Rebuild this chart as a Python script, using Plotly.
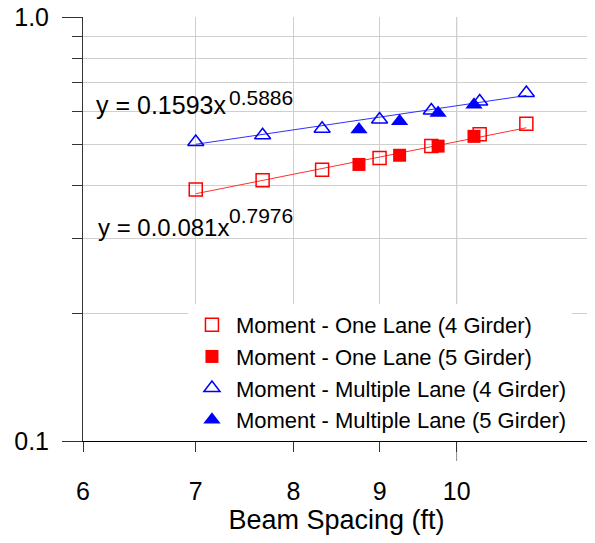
import math
import plotly.graph_objects as go

# beam spacing (ft) and LDF values
beam_4g = [7.0, 7.67, 8.32, 9.0, 9.66, 10.32, 11.0]
one_lane_4g = [0.392, 0.412, 0.436, 0.465, 0.496, 0.529, 0.560]
multi_lane_4g = [0.507, 0.526, 0.545, 0.573, 0.602, 0.632, 0.662]

beam_5g = [8.75, 9.25, 9.75, 10.24]
one_lane_5g = [0.449, 0.472, 0.496, 0.523]
multi_lane_5g = [0.543, 0.568, 0.594, 0.621]

# power-law trend lines (straight on log-log), end points
fit_x = [7.0, 11.0]
one_lane_fit = [0.383, 0.548]
multi_lane_fit = [0.501, 0.653]

x_ticks = [6, 7, 8, 9, 10]
y_major = [0.1, 1.0]
y_minor = [0.2, 0.3, 0.4, 0.5, 0.6, 0.7, 0.8, 0.9]

RED = "#ff0000"
BLUE = "#0000ff"
FONT = "Arial, Liberation Sans, sans-serif"

fig = go.Figure()

fig.add_trace(go.Scatter(x=fit_x, y=one_lane_fit, mode="lines",
                         line=dict(color="#ff3030", width=1), showlegend=False))
fig.add_trace(go.Scatter(x=fit_x, y=multi_lane_fit, mode="lines",
                         line=dict(color="#3030ff", width=1), showlegend=False))

fig.add_trace(go.Scatter(x=beam_4g, y=one_lane_4g, mode="markers",
                         name="Moment - One Lane (4 Girder)",
                         marker=dict(symbol="square-open", size=13, color=RED, line=dict(width=1.5))))
fig.add_trace(go.Scatter(x=beam_5g, y=one_lane_5g, mode="markers",
                         name="Moment - One Lane (5 Girder)",
                         marker=dict(symbol="square", size=13, color=RED)))
fig.add_trace(go.Scatter(x=beam_4g, y=multi_lane_4g, mode="markers",
                         name="Moment - Multiple Lane (4 Girder)",
                         marker=dict(symbol="triangle-up-open", size=14, color=BLUE, line=dict(width=1.5))))
fig.add_trace(go.Scatter(x=beam_5g, y=multi_lane_5g, mode="markers",
                         name="Moment - Multiple Lane (5 Girder)",
                         marker=dict(symbol="triangle-up", size=15, color=BLUE)))

# darker grid line + long tick at x = 10
fig.add_shape(type="line", xref="x", yref="paper", x0=10, x1=10, y0=-20 / 424, y1=1,
              line=dict(color="#8c8c8c", width=1), layer="below")

# fit equations
fig.add_annotation(text="y = 0.1593x", xref="paper", yref="paper", x=0.022, y=0.792,
                   xanchor="left", yanchor="middle", showarrow=False, font=dict(size=25))
fig.add_annotation(text="0.5886", xref="paper", yref="paper", x=0.284, y=0.811,
                   xanchor="left", yanchor="middle", showarrow=False, font=dict(size=21))
fig.add_annotation(text="y = 0.0.081x", xref="paper", yref="paper", x=0.026, y=0.503,
                   xanchor="left", yanchor="middle", showarrow=False, font=dict(size=24))
fig.add_annotation(text="0.7976", xref="paper", yref="paper", x=0.285, y=0.532,
                   xanchor="left", yanchor="middle", showarrow=False, font=dict(size=21))

# y axis title, mostly cut off at the left edge as in the original
fig.add_annotation(text="LDF", xref="paper", yref="paper", x=-0.1815, y=0.5,
                   xanchor="center", yanchor="middle", textangle=-90, showarrow=False,
                   font=dict(size=26))

fig.update_xaxes(type="log", range=[math.log10(6), math.log10(12)], automargin=False,
                 tickvals=x_ticks, ticktext=[str(v) for v in x_ticks],
                 ticks="outside", ticklen=10, tickcolor="#333", ticklabelstandoff=18,
                 tickfont=dict(size=25), ticklabeloverflow="allow",
                 showgrid=True, gridcolor="#cfcfcf", gridwidth=1,
                 showline=True, linecolor="black", linewidth=1, zeroline=False,
                 title=dict(text="Beam Spacing (ft)", font=dict(size=27), standoff=6))
fig.update_yaxes(type="log", range=[-1, 0], automargin=False,
                 tickvals=y_major, ticktext=["0.1", "1.0"],
                 ticks="outside", ticklen=20, tickcolor="#333", ticklabelstandoff=8,
                 tickfont=dict(size=25), ticklabeloverflow="allow",
                 showgrid=True, gridcolor="#8c8c8c", gridwidth=1,
                 showline=True, linecolor="#333", linewidth=1, zeroline=False,
                 minor=dict(tickvals=y_minor, ticks="outside", ticklen=10, tickcolor="#333",
                            showgrid=True, gridcolor="#cfcfcf"))

# the page body adds an 8px offset, so the figure is 8px smaller each way
fig.update_layout(
    width=587, height=535,
    margin=dict(l=75, r=5, t=9, b=102),
    plot_bgcolor="white", paper_bgcolor="white",
    font=dict(family=FONT, color="black"),
    legend=dict(x=0.207, y=0.323, xanchor="left", yanchor="top",
                bgcolor="white", borderwidth=0, font=dict(size=22),
                tracegroupgap=0, itemwidth=38),
)

fig.write_html("out.html")
